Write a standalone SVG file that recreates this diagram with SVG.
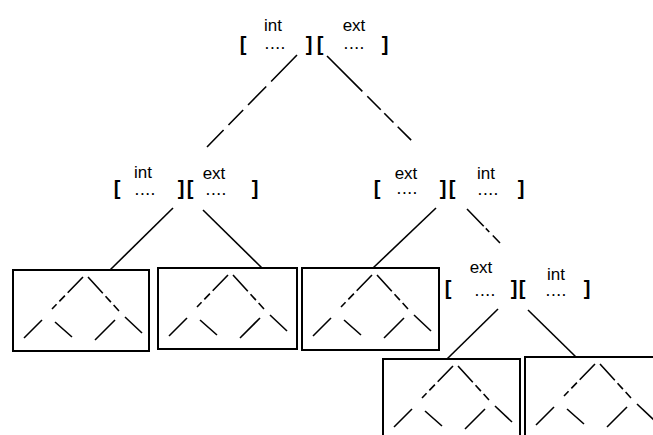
<svg xmlns="http://www.w3.org/2000/svg" xmlns:xlink="http://www.w3.org/1999/xlink" width="653" height="435" viewBox="0 0 653 435">
<style>
  .lbl { font-family: "Liberation Sans", Arial, sans-serif; font-size: 17px; fill: #000; text-anchor: middle; }
  .dots { font-family: "Liberation Sans", Arial, sans-serif; font-size: 12px; font-weight: bold; fill: #000; text-anchor: middle; letter-spacing: 2px; }
  .br { font-family: "Liberation Sans", Arial, sans-serif; font-size: 20px; font-weight: bold; fill: #000; text-anchor: middle; }
  .box { fill: none; stroke: #000; stroke-width: 2; }
  .edge { fill: none; stroke: #000; stroke-width: 1.6; }
  .tree { fill: none; stroke: #000; stroke-width: 1.6; }
  .treed { fill: none; stroke: #000; stroke-width: 1.6; stroke-dasharray: 22 4 8 4; }
</style>
<defs>
  <g id="subtree">
    <line class="treed" x1="70" y1="7" x2="39" y2="39"/>
    <line class="treed" x1="75" y1="7" x2="106" y2="41"/>
    <line class="tree" x1="29" y1="50" x2="11" y2="68"/>
    <line class="tree" x1="42" y1="52" x2="59" y2="67"/>
    <line class="tree" x1="102" y1="50" x2="82" y2="70"/>
    <line class="tree" x1="112" y1="47" x2="129" y2="63"/>
  </g>
</defs>
<rect width="653" height="435" fill="#fff"/>
<g id="connectors">
  <line class="edge" x1="297" y1="55" x2="207" y2="147" stroke-dasharray="37 7 26 7 21 7"/>
  <line class="edge" x1="327" y1="56" x2="416" y2="145" stroke-dasharray="50 7 19 5 13 6 19"/>
  <line class="edge" x1="173" y1="208" x2="110" y2="270"/>
  <line class="edge" x1="203" y1="210" x2="262" y2="268"/>
  <line class="edge" x1="436" y1="208" x2="373" y2="268"/>
  <line class="edge" x1="467" y1="209" x2="500" y2="243" stroke-dasharray="24 3 5 5 12"/>
  <line class="edge" x1="498" y1="309" x2="447" y2="359"/>
  <line class="edge" x1="528" y1="310" x2="576" y2="357"/>
</g>
<g id="node-root">
  <text class="br" x="243" y="51">[</text>
  <text class="lbl" x="273" y="31">int</text>
  <text class="dots" x="276" y="49">....</text>
  <text class="br" x="309" y="51">]</text>
  <text class="br" x="320" y="51">[</text>
  <text class="lbl" x="354" y="31">ext</text>
  <text class="dots" x="355" y="49">....</text>
  <text class="br" x="385" y="51">]</text>
</g>
<g id="node-left">
  <text class="br" x="117" y="195">[</text>
  <text class="lbl" x="143" y="178">int</text>
  <text class="dots" x="146" y="195">....</text>
  <text class="br" x="181" y="195">]</text>
  <text class="br" x="190" y="195">[</text>
  <text class="lbl" x="214" y="179">ext</text>
  <text class="dots" x="217" y="195">....</text>
  <text class="br" x="255" y="195">]</text>
</g>
<g id="node-right">
  <text class="br" x="377" y="195">[</text>
  <text class="lbl" x="406" y="179">ext</text>
  <text class="dots" x="408" y="194">....</text>
  <text class="br" x="443" y="195">]</text>
  <text class="br" x="452" y="195">[</text>
  <text class="lbl" x="486" y="179">int</text>
  <text class="dots" x="489" y="195">....</text>
  <text class="br" x="521" y="195">]</text>
</g>
<g id="node-right-right">
  <text class="br" x="448" y="295">[</text>
  <text class="lbl" x="481" y="273">ext</text>
  <text class="dots" x="486" y="296">....</text>
  <text class="br" x="514" y="295">]</text>
  <text class="br" x="522" y="295">[</text>
  <text class="lbl" x="556" y="280">int</text>
  <text class="dots" x="557" y="296">....</text>
  <text class="br" x="587" y="295">]</text>
</g>
<g id="box1">
  <rect class="box" x="13" y="270" width="136" height="81"/>
  <use xlink:href="#subtree" transform="translate(13,270)"/>
</g>
<g id="box2">
  <rect class="box" x="158" y="268" width="139" height="81"/>
  <use xlink:href="#subtree" transform="translate(158,268)"/>
</g>
<g id="box3">
  <rect class="box" x="302" y="268" width="137" height="82"/>
  <use xlink:href="#subtree" transform="translate(302,268)"/>
</g>
<g id="box4">
  <rect class="box" x="383" y="359" width="137" height="81"/>
  <use xlink:href="#subtree" transform="translate(383,359)"/>
</g>
<g id="box5">
  <rect class="box" x="525" y="357" width="140" height="83"/>
  <use xlink:href="#subtree" transform="translate(525,357)"/>
</g>
</svg>
